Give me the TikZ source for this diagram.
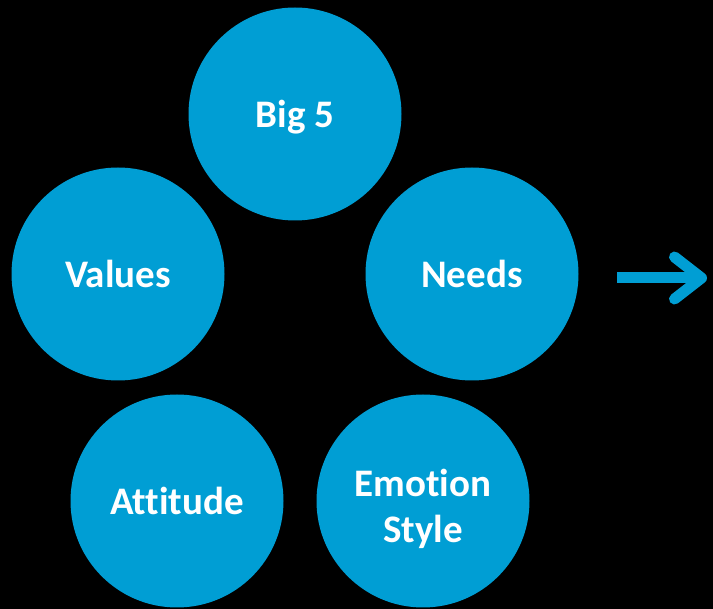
\documentclass[tikz,border=0pt]{standalone}
\usepackage{fontspec}
\setmainfont{Carlito}[Ligatures=NoCommon]
\usetikzlibrary{arrows.meta,positioning}
\definecolor{traitblue}{RGB}{0,158,212}

\begin{document}
\begin{tikzpicture}[x=1pt, y=-1pt,
            trait/.style={circle, fill=traitblue, minimum size=213pt, inner sep=0pt, text=white,
                font=\fontsize{39}{46}\selectfont\bfseries, align=center, text depth=0pt},
            arrow/.style={-{Straight Barb[round, length=27pt, width=42pt]}, line width=11pt, traitblue}
        ]
        \fill[black] (0,0) rectangle (713,609);
        \useasboundingbox (0,0) rectangle (713,609);

        \node[trait] (big) at (295,114) {Big 5};
        \node[trait] (values) at (118,274) {Values};
        \node[trait] (needs) at (472,274) {Needs};
        \node[trait] (attitude) at (177,501) {Attitude};
        \node[trait, text height=83pt] (emotion) at (423,501) {Emotion\\Style};

        % arrow pointing out of the cluster
        \coordinate (arrowtail) at (617,278);
        \coordinate (arrowhead) at (707,278);
        \draw[arrow] (arrowtail) -- (arrowhead);
\end{tikzpicture}
\end{document}
